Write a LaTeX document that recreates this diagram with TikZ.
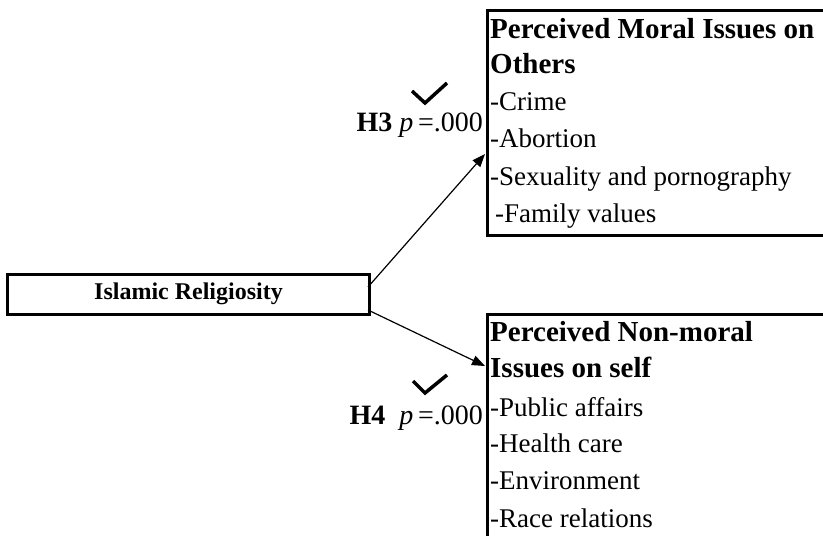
\documentclass[tikz,border=0pt]{standalone}
\usepackage{fontspec}
\setmainfont{Liberation Serif}
\usetikzlibrary{arrows.meta}
\begin{document}
\begin{tikzpicture}[x=1pt,y=-1pt,
  box/.style={draw=black,line width=3pt,fill=white,inner sep=0pt,anchor=north west},
  ln/.style={anchor=base west,inner sep=0pt,font=\fontsize{27}{30}\selectfont},
  hd/.style={ln,font=\fontsize{29}{32}\selectfont\bfseries},
  lab/.style={anchor=base east,inner sep=0pt,font=\fontsize{28}{30}\selectfont},
  conn/.style={line width=1.2pt,-{Triangle[length=13pt,width=10pt]}},
  tick/.style={line width=3.5pt,line join=miter}]
\useasboundingbox (0,0) rectangle (823,536);
\clip (0,0) rectangle (823,536);
% boxes
\node[box,minimum width=362pt,minimum height=40pt] (rel) at (6,273) {};
\node[anchor=center,inner sep=0pt,font=\fontsize{24}{26}\selectfont\bfseries] (reltext) at ([yshift=1pt]rel.center) {Islamic Religiosity};
\node[box,minimum width=360pt,minimum height=225pt] (moral) at (486,9) {};
\node[box,minimum width=360pt,minimum height=240pt] (nonmoral) at (486,313) {};
% top box text
\node[hd] (m1) at (490,38) {Perceived Moral Issues on};
\node[hd] (m2) at (490,73) {Others};
\node[ln] (m3) at (490,110) {-Crime};
\node[ln] (m4) at (490,147) {-Abortion};
\node[ln] (m5) at (490,185) {-Sexuality and pornography};
\node[ln] (m6) at (495,222) {-Family values};
% bottom box text
\node[hd] (n1) at (490,341) {Perceived Non-moral};
\node[hd] (n2) at (490,377) {Issues on self};
\node[ln] (n3) at (490,416) {-Public affairs};
\node[ln] (n4) at (490,452) {-Health care};
\node[ln] (n5) at (490,489) {-Environment};
\node[ln] (n6) at (490,527) {-Race relations};
% connectors
\coordinate (s1) at (368,287);
\coordinate (s2) at (368,310);
\coordinate (t1) at (485,154);
\coordinate (t2) at (485,366);
\draw[conn] (s1) -- (t1);
\draw[conn] (s2) -- (t2);
% labels
\node[lab] (h3) at (483,131) {\textbf{H3} \textit{p}\,=.000};
\node[lab] (h4) at (483,424) {\textbf{H4}\ \ \textit{p}\,=.000};
\draw[tick] (412,91) -- (425,103) -- (447,83);
\draw[tick] (413,381) -- (425,393) -- (447,375);
\end{tikzpicture}
\end{document}
